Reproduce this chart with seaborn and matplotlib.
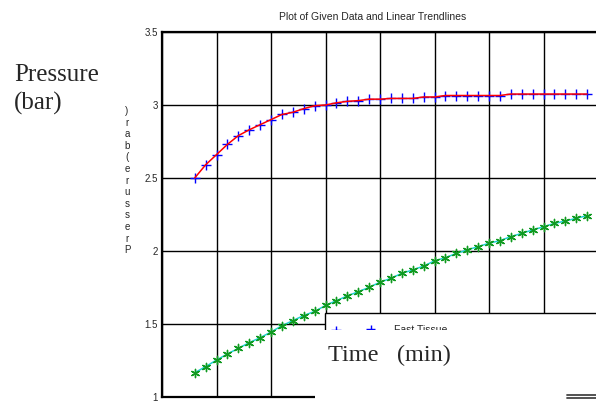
import matplotlib
matplotlib.use("Agg")
import matplotlib.pyplot as plt
import seaborn as sns
import pandas as pd
from matplotlib.patches import Rectangle
from matplotlib.lines import Line2D

# ---- data ----
time_min = [3, 4, 5, 6, 7, 8, 9, 10, 11, 12, 13, 14, 15, 16, 17, 18, 19, 20, 21,
            22, 23, 24, 25, 26, 27, 28, 29, 30, 31, 32, 33, 34, 35, 36, 37, 38, 39]
fast_tissue = [2.50, 2.59, 2.66, 2.73, 2.79, 2.83, 2.865, 2.90, 2.935, 2.95, 2.975,
               2.995, 3.00, 3.015, 3.025, 3.03, 3.04, 3.04, 3.045, 3.045, 3.045,
               3.055, 3.055, 3.065, 3.065, 3.065, 3.065, 3.065, 3.065, 3.075, 3.075,
               3.075, 3.075, 3.075, 3.075, 3.075, 3.075]
slow_tissue = [1.166, 1.208, 1.253, 1.295, 1.333, 1.372, 1.406, 1.445, 1.488, 1.523,
               1.558, 1.586, 1.627, 1.66, 1.692, 1.721, 1.751, 1.786, 1.813, 1.847,
               1.870, 1.897, 1.932, 1.954, 1.984, 2.007, 2.03, 2.053, 2.071, 2.098,
               2.121, 2.144, 2.166, 2.189, 2.205, 2.224, 2.242]
y_ticks = [1, 1.5, 2, 2.5, 3, 3.5]
y_tick_labels = ["1", "1.5", "2", "2.5", "3", "3.5"]
x_grid = [0, 5, 10, 15, 20, 25, 30, 35, 40]

df = pd.DataFrame({"t": time_min, "fast": fast_tissue, "slow": slow_tissue})

sns.set_theme(style="white")
plt.rcParams["font.family"] = ["Liberation Sans", "DejaVu Sans"]

W, H = 596, 404
fig = plt.figure(figsize=(W / 100, H / 100), dpi=100)
ax = fig.add_axes([162 / W, 7 / H, 436 / W, 365 / H])

# fast tissue: blue plus markers with red line on top
sns.scatterplot(data=df, x="t", y="fast", marker="+", color="blue", s=45,
                linewidth=1.0, ax=ax, zorder=3, label="Fast Tissue")
sns.lineplot(data=df, x="t", y="fast", color="red", lw=1.1, ax=ax, zorder=4)
# slow tissue: cyan line + green asterisks
sns.lineplot(data=df, x="t", y="slow", color="#20d0d0", lw=1.1, ax=ax, zorder=3)
sns.scatterplot(data=df, x="t", y="slow", marker=(6, 2, 0), color="#109a20", s=35,
                linewidth=1.0, ax=ax, zorder=4, label="Slow Tissue")

ax.set_xlim(0, 40)
ax.set_ylim(1, 3.5)
ax.set_xticks(x_grid)
ax.set_xticklabels([])
ax.set_yticks(y_ticks)
ax.set_yticklabels(y_tick_labels, fontsize=7)
ax.tick_params(axis="y", pad=3, length=0)
ax.tick_params(axis="x", length=0)
ax.grid(True, color="black", lw=1.0)
ax.set_axisbelow(True)
ax.set_xlabel("")
ax.set_ylabel("")
for side in ["top", "bottom", "left"]:
    ax.spines[side].set_color("black")
    ax.spines[side].set_linewidth(1.6)
ax.spines["right"].set_visible(False)

# legend (only partly visible in the reference), drawn at figure level
handles, labels = ax.get_legend_handles_labels()
ax.get_legend().remove()
leg = fig.legend(handles[:1], labels[:1], loc="upper left",
                 bbox_to_anchor=(333 / W, 1 - 325 / H),
                 frameon=False, fontsize=7.5, scatterpoints=2, handlelength=3.9,
                 handletextpad=2.0, borderaxespad=0, borderpad=0)
leg.set_zorder(7)

# legend frame + white cover
fig.patches.append(Rectangle((325 / W, -0.1), 1, 1.1 - 313 / H, transform=fig.transFigure,
                             facecolor="white", edgecolor="black", lw=1.0, zorder=5))
fig.patches.append(Rectangle((315 / W, -0.1), 1, 1.1 - 330 / H, transform=fig.transFigure,
                             facecolor="white", edgecolor="none", zorder=8))
for yy in [394.5, 397.5]:
    fig.lines.append(Line2D([567 / W, 1.0], [1 - yy / H, 1 - yy / H], transform=fig.transFigure,
                            color="#444444", lw=1.3, zorder=9))

# texts
fig.text(373 / W, 1 - 17 / H, "Plot of Given Data and Linear Trendlines", ha="center",
         va="center", fontsize=7.5)
fig.text(14 / W, 1 - 64 / H, "Pressure\n(bar)", ha="left", va="top",
         fontsize=18, family=["Liberation Serif"], linespacing=1.35)
fig.text(127 / W, 1 - 106 / H, "\n".join(reversed("Pressure(bar)")), ha="center",
         va="top", fontsize=7, linespacing=1.2)
fig.text(328 / W, 1 - 361 / H, "Time   (min)", ha="left", va="baseline",
         fontsize=17.5, family=["Liberation Serif"], zorder=10)

fig.savefig("out.png", dpi=100)
